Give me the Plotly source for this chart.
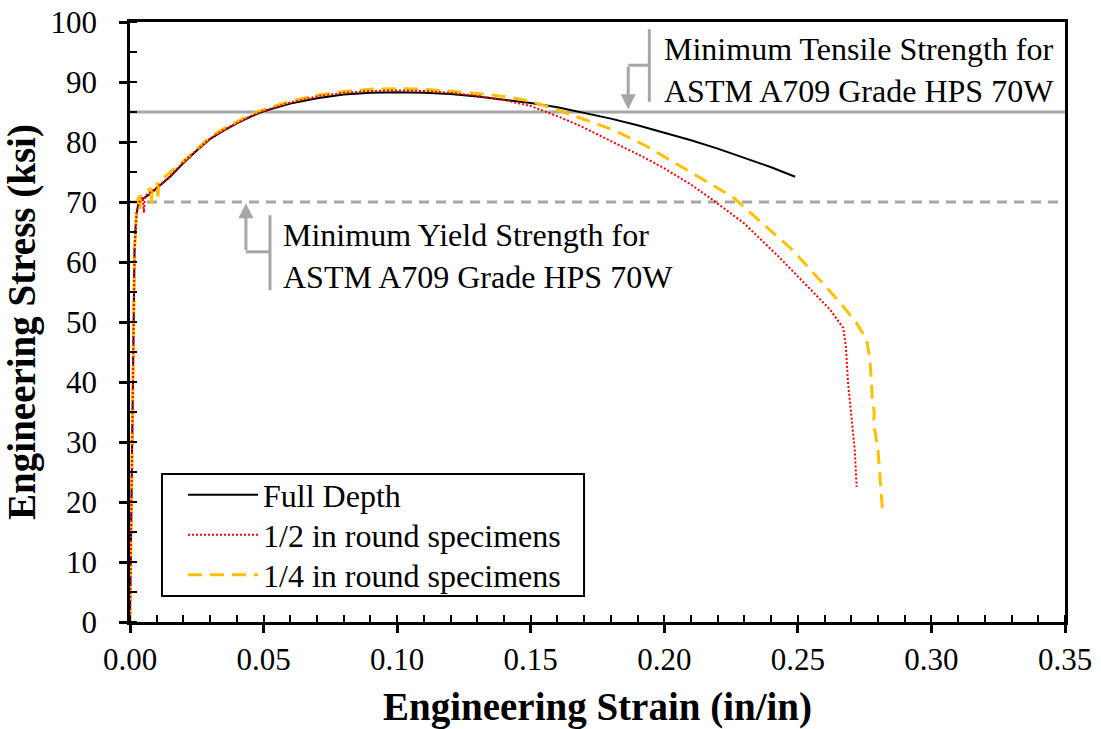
import plotly.graph_objects as go

# Full-depth specimen: engineering strain (in/in) and stress (ksi)
full_strain = [0, 0.0008, 0.0017, 0.0022, 0.003, 0.005, 0.008, 0.010, 0.015, 0.020,
               0.025, 0.030, 0.035, 0.040, 0.045, 0.050, 0.060, 0.070, 0.080, 0.090,
               0.100, 0.110, 0.120, 0.130, 0.140, 0.150, 0.160, 0.170, 0.180, 0.190,
               0.200, 0.210, 0.220, 0.230, 0.240, 0.249]
full_stress = [0, 29, 62, 67, 69.5, 70.6, 71.5, 72.3, 74.2, 76.5,
               78.6, 80.5, 81.9, 83.1, 84.2, 85.1, 86.4, 87.3, 87.9, 88.2,
               88.3, 88.2, 88.0, 87.6, 87.1, 86.5, 85.8, 84.9, 83.9, 82.8,
               81.6, 80.3, 78.9, 77.4, 75.8, 74.2]

# 1/2 in round specimens
half_strain = [0, 0.0008, 0.0017, 0.0025, 0.0035, 0.0048, 0.0052, 0.0056, 0.008, 0.010,
               0.015, 0.020, 0.025, 0.030, 0.035, 0.040, 0.045, 0.050, 0.060, 0.070,
               0.080, 0.090, 0.100, 0.110, 0.120, 0.130, 0.140, 0.150, 0.155, 0.160,
               0.168, 0.181, 0.193, 0.200, 0.210, 0.218, 0.230, 0.243, 0.255, 0.262,
               0.267, 0.268, 0.2688, 0.270, 0.2713, 0.272]
half_stress = [0, 29, 62, 68.5, 70.0, 70.8, 68.2, 71.0, 71.8, 72.4,
               74.3, 76.7, 78.7, 80.6, 82.0, 83.2, 84.3, 85.2, 86.6, 87.6,
               88.2, 88.5, 88.6, 88.5, 88.2, 87.7, 87.0, 86.0, 85.2, 84.3,
               82.8, 80.0, 77.3, 75.6, 72.9, 70.4, 66.4, 60.8, 55.4, 52.1,
               49.0, 45.8, 39.8, 34.2, 28.7, 22.5]

# 1/4 in round specimens
quarter_strain = [0, 0.0008, 0.0017, 0.0025, 0.003, 0.0035, 0.0037, 0.0041, 0.0055, 0.0078,
                  0.0080, 0.0084, 0.0102, 0.0104, 0.0108, 0.013, 0.020, 0.025, 0.030, 0.035,
                  0.040, 0.045, 0.050, 0.060, 0.070, 0.080, 0.090, 0.100, 0.110, 0.120,
                  0.130, 0.140, 0.150, 0.161, 0.1685, 0.181, 0.1934, 0.206, 0.2257, 0.248,
                  0.258, 0.2657, 0.272, 0.2758, 0.277, 0.278, 0.2786, 0.2783, 0.279, 0.280,
                  0.2818]
quarter_stress = [0, 29, 62, 69.0, 70.5, 71.0, 68.8, 71.2, 71.6, 72.3,
                  69.5, 72.5, 73.2, 70.3, 73.4, 74.2, 76.8, 78.8, 80.8, 82.2,
                  83.4, 84.5, 85.4, 86.8, 87.8, 88.4, 88.8, 88.9, 88.8, 88.5,
                  88.1, 87.6, 86.8, 85.2, 84.0, 82.0, 79.3, 76.0, 70.8, 62.0,
                  57.0, 53.3, 49.8, 47.0, 43.7, 36.5, 35.0, 32.8, 31.5, 28.7,
                  17.8]

# Specified minimums for ASTM A709 Grade HPS 70W (ksi)
min_tensile = 85
min_yield = 70

x_ticks = [0.00, 0.05, 0.10, 0.15, 0.20, 0.25, 0.30, 0.35]
y_ticks = [0, 10, 20, 30, 40, 50, 60, 70, 80, 90, 100]

SERIF = "Liberation Serif, Times New Roman, serif"
GRAY = "#a6a6a6"

fig = go.Figure()

fig.add_trace(go.Scatter(x=full_strain, y=full_stress, mode="lines", name="Full Depth",
                         line=dict(color="black", width=2), legend="legend"))
fig.add_trace(go.Scatter(x=quarter_strain, y=quarter_stress, mode="lines",
                         name="1/4 in round specimens",
                         line=dict(color="#ffc000", width=3, dash="14px,8px"),
                         legend="legend3"))
fig.add_trace(go.Scatter(x=half_strain, y=half_stress, mode="lines",
                         name="1/2 in round specimens",
                         line=dict(color="#ff0000", width=2, dash="2px,2px"),
                         legend="legend2"))

# Horizontal reference lines for the specified strengths
fig.add_shape(type="line", xref="paper", x0=0, x1=1, yref="y", y0=min_tensile, y1=min_tensile,
              line=dict(color=GRAY, width=3), layer="below")
fig.add_shape(type="line", xref="paper", x0=0, x1=1, yref="y", y0=min_yield, y1=min_yield,
              line=dict(color=GRAY, width=3, dash="10px,7px"), layer="below")

# Callout brackets
bracket = dict(color=GRAY, width=3)
fig.add_shape(type="line", x0=0.1944, x1=0.1944, y0=98.8, y1=86.7, line=bracket)
fig.add_shape(type="line", x0=0.1944, x1=0.1865, y0=92.8, y1=92.8, line=bracket)
fig.add_shape(type="line", x0=0.0524, x1=0.0524, y0=67.8, y1=55.3, line=bracket)
fig.add_shape(type="line", x0=0.0524, x1=0.0434, y0=61.7, y1=61.7, line=bracket)

fig.add_annotation(x=0.1865, y=min_tensile + 0.45, ax=0.1865, ay=92.8, axref="x", ayref="y",
                   text="", showarrow=True, arrowhead=2, arrowwidth=3, arrowsize=1,
                   arrowcolor=GRAY)
fig.add_annotation(x=0.0434, y=min_yield - 0.2, ax=0.0434, ay=61.7, axref="x", ayref="y",
                   text="", showarrow=True, arrowhead=2, arrowwidth=3, arrowsize=1,
                   arrowcolor=GRAY)

fig.add_annotation(x=0.199, y=92.0, xanchor="left", yanchor="middle", align="left",
                   showarrow=False,
                   text="Minimum Tensile Strength for<br>ASTM A709 Grade HPS 70W",
                   font=dict(family=SERIF, size=32, color="black"))
fig.add_annotation(x=0.0565, y=61.0, xanchor="left", yanchor="middle", align="left",
                   showarrow=False,
                   text="Minimum Yield Strength for<br>ASTM A709 Grade HPS 70W",
                   font=dict(family=SERIF, size=32, color="black"))

# Legend frame
fig.add_shape(type="rect", xref="paper", yref="paper", x0=0.0342, x1=0.4856,
              y0=0.0433, y1=0.2467, line=dict(color="black", width=2), fillcolor="white")

axis_common = dict(showgrid=False, zeroline=False, showline=True, linecolor="black",
                   linewidth=2.5, mirror=True, tickcolor="black", tickwidth=2.5,
                   ticks="outside", ticklen=8, automargin=False,
                   tickfont=dict(family=SERIF, size=31, color="black"))

# one legend per row so the rows sit at a fixed pitch inside the frame
legend_row = dict(x=0.0567, xanchor="left", yanchor="middle", borderwidth=0,
                  bgcolor="rgba(0,0,0,0)", itemwidth=70,
                  font=dict(family=SERIF, size=32, color="black"))

fig.update_layout(
    width=1101, height=729,
    margin=dict(l=130, r=36, t=22, b=107, autoexpand=False),
    paper_bgcolor="white", plot_bgcolor="white",
    font=dict(family=SERIF, color="black"),
    showlegend=True,
    legend=dict(y=0.2117, **legend_row),
    legend2=dict(y=0.145, **legend_row),
    legend3=dict(y=0.0783, **legend_row),
    xaxis=dict(range=[0, 0.35], tickvals=x_ticks,
               ticktext=[f"{v:.2f}" for v in x_ticks],
               minor=dict(ticks="inside", dtick=0.01, ticklen=7, tickwidth=2, tickcolor="black"),
               title=dict(text="<b>Engineering Strain (in/in)</b>", standoff=19,
                          font=dict(family=SERIF, size=39, color="black")),
               ticklabelstandoff=0,
               **axis_common),
    yaxis=dict(range=[0, 100], tickvals=y_ticks,
               minor=dict(ticks="inside", dtick=5, ticklen=7, tickwidth=2, tickcolor="black"),
               title=dict(text="<b>Engineering Stress (ksi)</b>", standoff=10,
                          font=dict(family=SERIF, size=39, color="black")),
               ticklabelstandoff=16,
               **axis_common),
    # companion axes supply the inner half of the major ticks
    xaxis2=dict(range=[0, 0.35], overlaying="x", anchor="y", side="bottom", tickvals=x_ticks,
                showticklabels=False, ticks="inside", ticklen=8, tickwidth=2.5,
                tickcolor="black", showgrid=False, zeroline=False, showline=False),
    yaxis2=dict(range=[0, 100], overlaying="y", anchor="x", side="left", tickvals=y_ticks,
                showticklabels=False, ticks="inside", ticklen=8, tickwidth=2.5,
                tickcolor="black", showgrid=False, zeroline=False, showline=False),
)

fig.write_html("out.html")
